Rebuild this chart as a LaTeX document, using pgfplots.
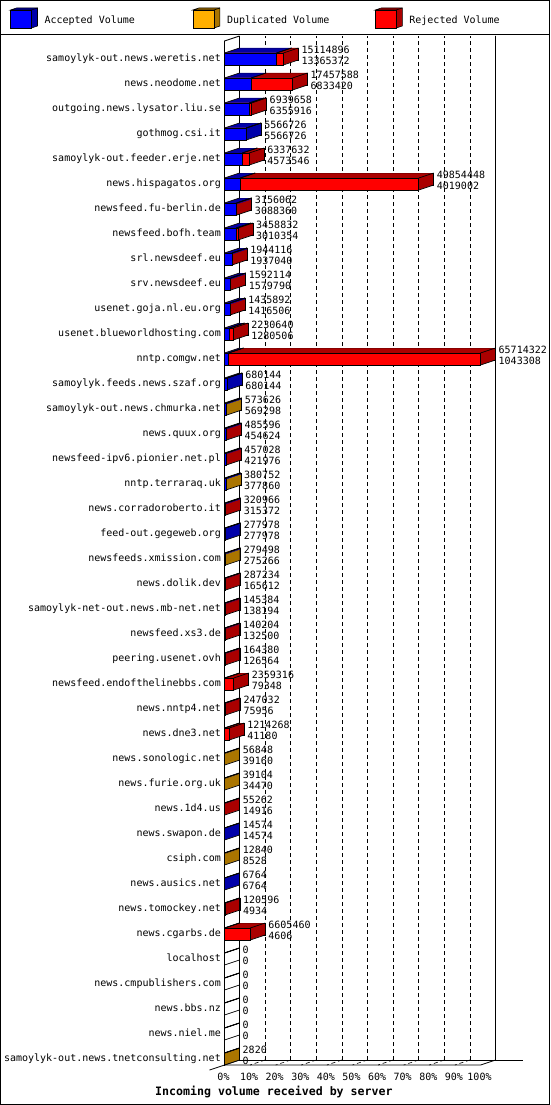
\documentclass[border=0pt]{standalone}
\usepackage{fontspec}
\setmainfont{DejaVu Sans Mono}
\usepackage{pgfplots}
\pgfplotsset{compat=1.18}
\usepackage{pgfplotstable}

\definecolor{accF}{HTML}{0000FF}
\definecolor{accD}{HTML}{0000AA}
\definecolor{dupF}{HTML}{FFAF00}
\definecolor{dupD}{HTML}{AA7500}
\definecolor{rejF}{HTML}{FF0000}
\definecolor{rejD}{HTML}{AA0000}

\newcommand\lab{\fontsize{10}{10.7}\selectfont}

% y = row position (41 = top row); acc = accepted, dup = duplicated, rej = rejected, tot = total; last = colour of the outer segment
\pgfplotstableread{
y acc dup rej tot last
41 13365372 0 1749524 15114896 3
40 6833420 0 10624168 17457588 3
39 6355916 0 583742 6939658 3
38 5566726 0 0 5566726 1
37 4573546 0 1764086 6337632 3
36 4019002 0 45835446 49854448 3
35 3088360 0 67702 3156062 3
34 3010354 0 448478 3458832 3
33 1937040 0 7076 1944116 3
32 1579790 0 12324 1592114 3
31 1416506 0 19386 1435892 3
30 1280506 0 950134 2230640 3
29 1043308 0 64671014 65714322 3
28 680144 0 0 680144 1
27 569298 4328 0 573626 2
26 454624 0 30972 485596 3
25 421976 0 35052 457028 3
24 377860 2892 0 380752 2
23 315372 0 5594 320966 3
22 277978 0 0 277978 1
21 275266 4232 0 279498 2
20 165612 0 121622 287234 3
19 138194 0 7190 145384 3
18 132500 0 7704 140204 3
17 126564 0 37816 164380 3
16 79348 0 2279968 2359316 3
15 75956 0 171076 247032 3
14 41180 0 1173088 1214268 3
13 39160 17688 0 56848 2
12 34470 4634 0 39104 2
11 14916 0 40346 55262 3
10 14574 0 0 14574 1
9 8528 4312 0 12840 2
8 6764 0 0 6764 1
7 4934 0 115662 120596 3
6 4606 0 6600854 6605460 3
5 0 0 0 0 0
4 0 0 0 0 0
3 0 0 0 0 0
2 0 0 0 0 0
1 0 2820 0 2820 2
}\data

\pgfplotsset{
  geom/.style={scale only axis, width=256pt, height=1050pt, xmin=0, xmax=100,
    ymin=0, ymax=42, clip=false, anchor=south west},
  bar/.style={xbar, bar shift=0pt, bar width=12pt, draw=none, forget plot},
  side/.style={xbar, bar shift=0pt, bar width=11.4pt, draw=none, forget plot},
  strip/.style={bar shift=0pt, bar width=1.5pt, draw=none, forget plot},
}

\newcommand\cube[2]{%
  \filldraw[fill=#2, draw=black, line width=0.6pt] (0pt,10.3pt) -- (6pt,12.3pt) -- (27pt,12.3pt) -- (27pt,-5.7pt) -- (21pt,-7.7pt) -- (21pt,10.3pt) -- cycle;
  \filldraw[fill=#1, draw=black, line width=0.6pt] (0pt,-7.7pt) rectangle (21pt,10.3pt);
  \draw[line width=0.6pt] (21pt,10.3pt) -- (27pt,12.3pt);}

\begin{document}
\begin{tikzpicture}
\useasboundingbox (0pt,-1105pt) rectangle (550pt,0pt);
\begin{scope}[x=1pt,y=-1pt]
\draw[line width=1pt] (0.5,0.5) rectangle (549.5,1104.5);
\draw[line width=1pt] (0,35) -- (550,35);
\draw[line width=0.8pt] (239.5,36) -- (239.5,1060) -- (523,1060);
\draw[line width=0.8pt] (495.5,36) -- (495.5,1060) -- (480.5,1065) -- (224.5,1065) -- (224.5,41) -- (239.5,36);
\draw[line width=0.8pt] (209.5,1070) -- (239.5,1060);
\foreach \k in {1,...,9} \draw[line width=0.6pt, dash pattern=on 4pt off 3pt] (239.5+25.6*\k,1060) -- (224.5+25.6*\k,1065);
\end{scope}

% back wall grid
\begin{axis}[scale only axis, width=256pt, height=1024pt, at={(239.5pt,-1060pt)}, anchor=south west,
  xmin=0, xmax=100, ymin=0, ymax=1, axis line style={draw=none},
  xtick={10,20,...,90}, xticklabels={}, ytick=\empty, major tick length=0pt,
  xmajorgrids, grid style={black, line width=0.6pt, dash pattern=on 4pt off 3pt}]
\end{axis}

% depth copies: side faces (colour of the outer segment) and top faces (stacked strips)
\foreach \k in {15,14,...,1}{
\begin{axis}[geom, hide axis, at={(224.5pt+\k pt-1.5pt,-1084pt+\k pt/3)}]
\addplot[side, fill=accD, restrict expr to domain={\thisrow{last}}{1:1}] table[x expr=\thisrow{tot}/657143.22+0.5859, y expr=\thisrow{y}-0.012]{\data};
\addplot[side, fill=dupD, restrict expr to domain={\thisrow{last}}{2:2}] table[x expr=\thisrow{tot}/657143.22+0.5859, y expr=\thisrow{y}-0.012]{\data};
\addplot[side, fill=rejD, restrict expr to domain={\thisrow{last}}{3:3}] table[x expr=\thisrow{tot}/657143.22+0.5859, y expr=\thisrow{y}-0.012]{\data};
\end{axis}
\begin{axis}[geom, hide axis, at={(224.5pt+\k pt,-1084pt+\k pt/3)}, xbar stacked, bar shift=0pt, bar width=1.5pt]
\addplot[strip, fill=accD] table[x expr=\thisrow{acc}/657143.22, y expr=\thisrow{y}+0.21]{\data};
\addplot[strip, fill=dupD] table[x expr=\thisrow{dup}/657143.22, y expr=\thisrow{y}+0.21]{\data};
\addplot[strip, fill=rejD] table[x expr=\thisrow{rej}/657143.22, y expr=\thisrow{y}+0.21]{\data};
\end{axis}
\ifnum\k=15
\begin{axis}[geom, hide axis, at={(239.5pt,-1079pt)}]
\addplot[xbar, bar shift=0pt, bar width=12pt, draw=black, fill=none, line width=0.7pt, forget plot] table[x expr=\thisrow{tot}/657143.22, y=y]{\data};
\end{axis}
\fi
}

% front faces, labels, legend
\begin{axis}[geom, at={(224.5pt,-1084pt)},
  axis line style={draw=none}, major tick length=0pt,
  xtick={0,10,...,100},
  xticklabels={0\%,10\%,20\%,30\%,40\%,50\%,60\%,70\%,80\%,90\%,100\%},
  xticklabel style={font=\lab, inner sep=0pt, anchor=north, yshift=10.65pt, xshift=-1pt, text height=7.3pt, text depth=0pt},
  ytick={1,...,41},
  yticklabels={samoylyk-out.news.tnetconsulting.net,news.niel.me,news.bbs.nz,news.cmpublishers.com,localhost,news.cgarbs.de,news.tomockey.net,news.ausics.net,csiph.com,news.swapon.de,news.1d4.us,news.furie.org.uk,news.sonologic.net,news.dne3.net,news.nntp4.net,newsfeed.endofthelinebbs.com,peering.usenet.ovh,newsfeed.xs3.de,samoylyk-net-out.news.mb-net.net,news.dolik.dev,newsfeeds.xmission.com,feed-out.gegeweb.org,news.corradoroberto.it,nntp.terraraq.uk,newsfeed-ipv6.pionier.net.pl,news.quux.org,samoylyk-out.news.chmurka.net,samoylyk.feeds.news.szaf.org,nntp.comgw.net,usenet.blueworldhosting.com,usenet.goja.nl.eu.org,srv.newsdeef.eu,srl.newsdeef.eu,newsfeed.bofh.team,newsfeed.fu-berlin.de,news.hispagatos.org,samoylyk-out.feeder.erje.net,gothmog.csi.it,outgoing.news.lysator.liu.se,news.neodome.net,samoylyk-out.news.weretis.net},
  yticklabel style={font=\lab, inner sep=0pt, anchor=east, xshift=-3.5pt, text height=7pt, text depth=2pt},
  xlabel={Incoming volume received by server},
  xlabel style={at={(axis description cs:0.193,-0.0076)}, anchor=center, inner sep=0pt, font=\fontsize{11.6}{13}\selectfont\bfseries},
  legend columns=3, legend cell align=left,
  legend style={at={(axis description cs:-0.8371,1.01524)}, anchor=west, draw=none, fill=none,
    inner sep=0pt, outer sep=0pt, font=\lab, nodes={inner sep=0pt},
    /tikz/every odd column/.append style={column sep=6.8pt},
    /tikz/every even column/.append style={column sep=0pt}},
]
\addplot[bar, fill=rejF, draw=black, line width=0.7pt] table[x expr=\thisrow{tot}/657143.22, y=y]{\data};
\addplot[bar, fill=dupF, draw=black, line width=0.7pt] table[x expr=(\thisrow{acc}+\thisrow{dup})/657143.22, y=y]{\data};
\addplot[bar, fill=accF, draw=black, line width=0.7pt] table[x expr=\thisrow{acc}/657143.22, y=y]{\data};
% depth edges
\addplot[forget plot, black, line width=0.7pt, quiver={u=5.859375, v=0.2}] table[x expr=0, y expr=\thisrow{y}+0.24]{\data};
\addplot[forget plot, black, line width=0.7pt, quiver={u=5.859375, v=0.2}] table[x expr=\thisrow{tot}/657143.22, y expr=\thisrow{y}+0.24]{\data};
\addplot[forget plot, black, line width=0.7pt, quiver={u=5.859375, v=0.2}] table[x expr=\thisrow{tot}/657143.22, y expr=\thisrow{y}-0.24]{\data};
\addplot[forget plot, black, line width=0.7pt, quiver={u=5.859375, v=0.2}] table[x expr=\thisrow{acc}/657143.22, y expr=\thisrow{y}+0.24]{\data};
\addplot[forget plot, black, line width=0.7pt, quiver={u=5.859375, v=0.2}] table[x expr=(\thisrow{acc}+\thisrow{dup})/657143.22, y expr=\thisrow{y}+0.24]{\data};
% value labels: total (upper line) and accepted (lower line)
\addplot[xbar, bar shift=0pt, bar width=12pt, draw=none, fill=none, forget plot,
  point meta=explicit symbolic, nodes near coords,
  every node near coord/.append style={font=\lab, anchor=west, inner sep=0pt, xshift=18pt, yshift=9pt, text=black, text height=7.3pt, text depth=0pt}]
  table[x expr=\thisrow{tot}/657143.22, y=y, meta=tot]{\data};
\addplot[xbar, bar shift=0pt, bar width=12pt, draw=none, fill=none, forget plot,
  point meta=explicit symbolic, nodes near coords,
  every node near coord/.append style={font=\lab, anchor=west, inner sep=0pt, xshift=18pt, yshift=-1.7pt, text=black, text height=7.3pt, text depth=0pt}]
  table[x expr=\thisrow{tot}/657143.22, y=y, meta=acc]{\data};
\addlegendimage{legend image code/.code={\cube{accF}{accD}}}
\addlegendentry{\makebox[148pt][l]{Accepted Volume}}
\addlegendimage{legend image code/.code={\cube{dupF}{dupD}}}
\addlegendentry{\makebox[148pt][l]{Duplicated Volume}}
\addlegendimage{legend image code/.code={\cube{rejF}{rejD}}}
\addlegendentry{\makebox[148pt][l]{Rejected Volume}}
\end{axis}
\end{tikzpicture}
\end{document}
